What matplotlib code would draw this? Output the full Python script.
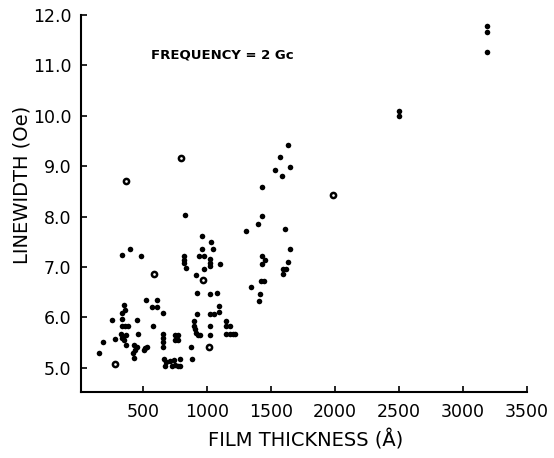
import matplotlib
matplotlib.use("Agg")
import matplotlib.pyplot as plt

# Film thickness (angstrom) and ferromagnetic resonance linewidth (Oe), 2 Gc
thickness = [
    156, 189, 260, 281, 353, 359, 337, 333, 333, 359, 380, 325, 345, 364,
    333, 353, 364, 450, 458, 431, 450, 436, 419, 431, 514, 528, 509, 337,
    400, 483, 525, 610, 567, 610, 657, 574, 657, 657, 657, 657, 748, 774,
    748, 774, 666, 682, 670, 709, 725, 743, 748, 774, 791, 791,
    826, 961, 1029, 1047, 961, 935, 977, 818, 818, 818, 839, 1021, 1021,
    1021, 977, 1104, 912, 922, 1021, 1076, 1091, 1091, 1021, 1052, 922,
    896, 896, 904, 917, 930, 947, 1021, 1026, 1146, 1151, 1177, 1151,
    1177, 1203, 1221, 873, 886,
    1631, 1574, 1528, 1650, 1582, 1432, 1429, 1398, 1302, 1611, 1652,
    1432, 1455, 1429, 1629, 1592, 1618, 1592, 1419, 1444, 1346, 1416, 1405,
    2497, 2497, 3190, 3190, 3190,
]
linewidth = [
    5.30, 5.52, 5.95, 5.57, 6.25, 6.15, 6.09, 5.97, 5.82, 5.82, 5.82, 5.67,
    5.62, 5.65, 5.59, 5.56, 5.46, 5.95, 5.67, 5.46, 5.41, 5.36, 5.29, 5.19,
    5.39, 5.42, 5.36, 7.23, 7.36, 7.22, 6.34, 6.34, 6.20, 6.20, 6.09, 5.82,
    5.67, 5.59, 5.52, 5.41, 5.65, 5.65, 5.55, 5.55, 5.18, 5.12, 5.03, 5.13,
    5.03, 5.16, 5.05, 5.03, 5.17, 5.03,
    8.04, 7.62, 7.49, 7.36, 7.36, 7.22, 7.22, 7.22, 7.14, 7.08, 6.98, 7.16,
    7.08, 7.02, 6.97, 7.07, 6.84, 6.48, 6.47, 6.48, 6.22, 6.10, 6.07, 6.07,
    6.07, 5.92, 5.83, 5.77, 5.70, 5.65, 5.65, 5.83, 5.65, 5.92, 5.83, 5.82,
    5.67, 5.67, 5.67, 5.67, 5.42, 5.17,
    9.42, 9.19, 8.93, 8.99, 8.80, 8.58, 8.02, 7.86, 7.71, 7.75, 7.36, 7.21,
    7.14, 7.06, 7.10, 6.97, 6.97, 6.87, 6.73, 6.73, 6.60, 6.47, 6.32,
    10.10, 9.99, 11.79, 11.66, 11.26,
]

# Samples plotted with open symbols
thickness_open = [281, 364, 585, 795, 969, 1016, 1982]
linewidth_open = [5.08, 8.71, 6.86, 9.16, 6.75, 5.41, 8.43]

x_ticks = [500, 1000, 1500, 2000, 2500, 3000, 3500]
y_ticks = [5.0, 6.0, 7.0, 8.0, 9.0, 10.0, 11.0, 12.0]

plt.rcParams["font.family"] = ["DejaVu Sans"]

fig = plt.figure(figsize=(5.54, 4.58), dpi=100)
ax = fig.add_axes([0.1462, 0.1441, 0.805, 0.823])

ax.scatter(thickness, linewidth, s=16, color="black", linewidths=0, zorder=3)
ax.scatter(thickness_open, linewidth_open, s=14, facecolor="white",
           edgecolor="black", linewidths=1.8, zorder=3)

ax.set_xlim(15, 3500)
ax.set_ylim(4.52, 12.0)

ax.set_xticks(x_ticks)
ax.set_xticklabels([str(t) for t in x_ticks], fontsize=12.5)
ax.set_yticks(y_ticks)
ax.set_yticklabels([f"{v:.1f}" for v in y_ticks], fontsize=12.5)

ax.tick_params(axis="both", direction="in", length=4, width=1.2,
               colors="black")
ax.tick_params(axis="x", pad=8)
ax.tick_params(axis="y", pad=7)

for side in ("top", "right"):
    ax.spines[side].set_visible(False)
for side in ("left", "bottom"):
    ax.spines[side].set_linewidth(1.5)

ax.set_xlabel("FILM THICKNESS (Å)", fontsize=14, va="center")
ax.xaxis.set_label_coords(0.504, -0.127)
ax.set_ylabel("LINEWIDTH (Oe)", fontsize=14, va="center")
ax.yaxis.set_label_coords(-0.132, 0.55)

ax.text(561, 11.21, "FREQUENCY = 2 Gc", fontsize=9.5, fontweight="semibold",
        ha="left", va="center")

fig.savefig("out.png", dpi=100, facecolor="white")
